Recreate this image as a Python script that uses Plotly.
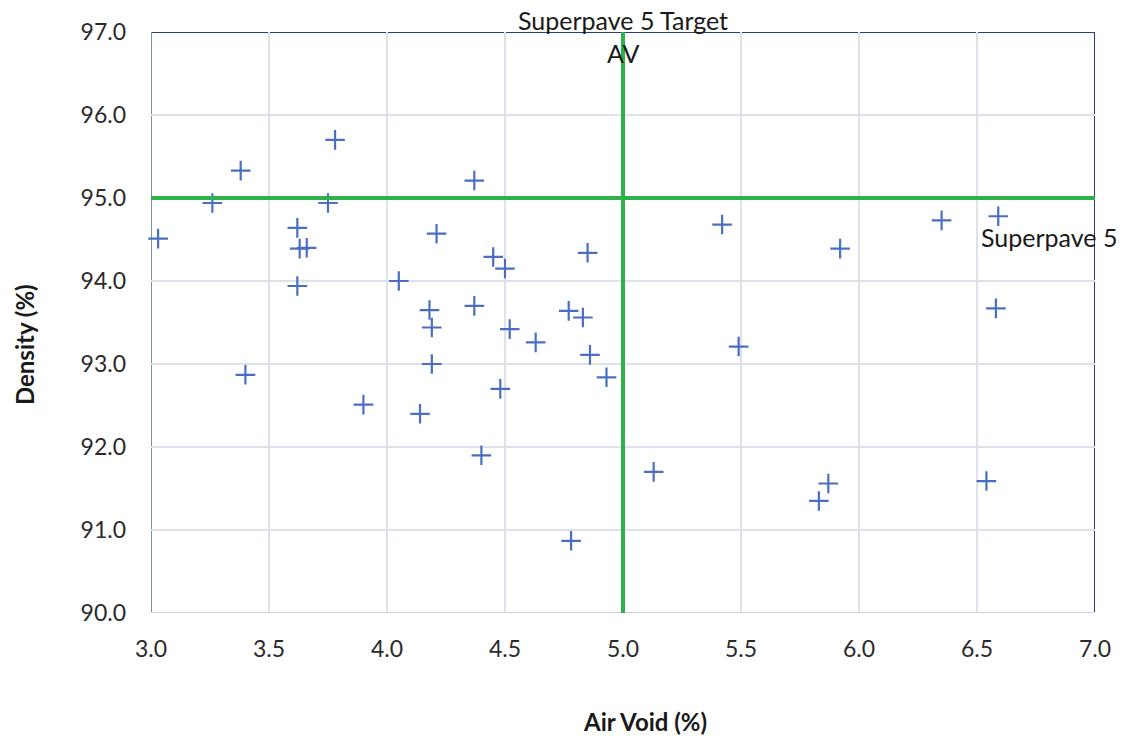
import plotly.graph_objects as go

# Measured specimens: air void content vs. density
air_void = [3.03, 3.26, 3.38, 3.40, 3.62, 3.63, 3.66, 3.62, 3.75, 3.78,
            3.90, 4.05, 4.14, 4.18, 4.19, 4.19, 4.21, 4.37, 4.37, 4.40,
            4.45, 4.48, 4.50, 4.52, 4.63, 4.77, 4.78, 4.83, 4.85, 4.86,
            4.93, 5.13, 5.42, 5.49, 5.83, 5.87, 5.92, 6.35, 6.54, 6.58,
            6.59]
density = [94.51, 94.94, 95.33, 92.87, 94.64, 94.39, 94.40, 93.94, 94.94, 95.70,
           92.51, 94.00, 92.40, 93.65, 93.44, 93.00, 94.57, 95.21, 93.70, 91.90,
           94.29, 92.70, 94.15, 93.42, 93.26, 93.64, 90.87, 93.56, 94.34, 93.11,
           92.84, 91.70, 94.68, 93.21, 91.35, 91.56, 94.39, 94.73, 91.59, 93.67,
           94.78]

# Superpave 5 targets
target_av = 5.0
target_density = 95.0

x_range = [3.0, 7.0]
y_range = [90.0, 97.0]
x_ticks = [3.0, 3.5, 4.0, 4.5, 5.0, 5.5, 6.0, 6.5, 7.0]
y_ticks = [90.0, 91.0, 92.0, 93.0, 94.0, 95.0, 96.0, 97.0]

FONT = "Lato"
GREEN = "#2eb14b"
NAVY = "#2c3a7e"

fig = go.Figure()
fig.add_trace(go.Scatter(
    x=air_void, y=density, mode="markers",
    marker=dict(symbol="cross-thin", size=14, color="#4a6fc0",
                line=dict(width=2.2, color="#4a6fc0")),
    showlegend=False, cliponaxis=False,
))

# target lines
fig.add_shape(type="line", xref="x", yref="y", x0=target_av, x1=target_av,
              y0=y_range[0], y1=y_range[1], line=dict(color=GREEN, width=4))
fig.add_shape(type="line", xref="x", yref="y", x0=x_range[0], x1=x_range[1],
              y0=target_density, y1=target_density, line=dict(color=GREEN, width=4))

# plot frame: dark top/right, lighter left/bottom
fig.add_shape(type="line", xref="x", yref="y", x0=x_range[0], x1=x_range[1],
              y0=y_range[1], y1=y_range[1], line=dict(color=NAVY, width=2), layer="below")
fig.add_shape(type="line", xref="x", yref="y", x0=x_range[1], x1=x_range[1],
              y0=y_range[0], y1=y_range[1], line=dict(color=NAVY, width=2), layer="below")
fig.add_shape(type="line", xref="x", yref="y", x0=x_range[0], x1=x_range[0],
              y0=y_range[0], y1=y_range[1], line=dict(color="#7d8db3", width=2), layer="below")
fig.add_shape(type="line", xref="x", yref="y", x0=x_range[0], x1=x_range[1],
              y0=y_range[0], y1=y_range[0], line=dict(color="#c8d0e2", width=2), layer="below")

text_font = dict(family=FONT, size=25, color="#1a1a1a")
fig.add_annotation(x=target_av, y=1.0, xref="x", yref="paper", yshift=12,
                   text="Superpave 5 Target", showarrow=False, font=text_font,
                   xanchor="center", yanchor="middle")
fig.add_annotation(x=target_av, y=1.0, xref="x", yref="paper", yshift=-21,
                   text="AV", showarrow=False, font=text_font,
                   xanchor="center", yanchor="middle")
fig.add_annotation(x=6.51, y=94.53, xref="x", yref="y",
                   text="Superpave 5", showarrow=False, font=text_font,
                   xanchor="left", yanchor="middle")

# axis titles
title_font = dict(family=FONT, size=24, color="#1a1a1a")
fig.add_annotation(x=0.523, y=-0.187, xref="paper", yref="paper",
                   text="<b>Air Void (%)</b>", showarrow=False, font=title_font,
                   xanchor="center", yanchor="middle")
fig.add_annotation(x=-0.134, y=0.462, xref="paper", yref="paper",
                   text="<b>Density (%)</b>", showarrow=False, font=title_font,
                   textangle=-90, xanchor="center", yanchor="middle")

tick_font = dict(family=FONT, size=23, color="#2a2a2a")
fig.update_xaxes(range=x_range, tickvals=x_ticks, tickformat=".1f",
                 showgrid=True, gridcolor="#dde1ea", gridwidth=1.5,
                 zeroline=False, showline=False, ticks="", ticklabelstandoff=20,
                 tickfont=tick_font)
fig.update_yaxes(range=y_range, tickvals=y_ticks, tickformat=".1f",
                 showgrid=True, gridcolor="#dde1ea", gridwidth=1.5,
                 zeroline=False, showline=False, ticks="", ticklabelstandoff=24,
                 tickfont=tick_font)

fig.update_layout(
    width=1140, height=738,
    margin=dict(l=151, r=45, t=32, b=125),
    paper_bgcolor="white", plot_bgcolor="white",
    font=dict(family=FONT),
)

fig.write_html("out.html")
